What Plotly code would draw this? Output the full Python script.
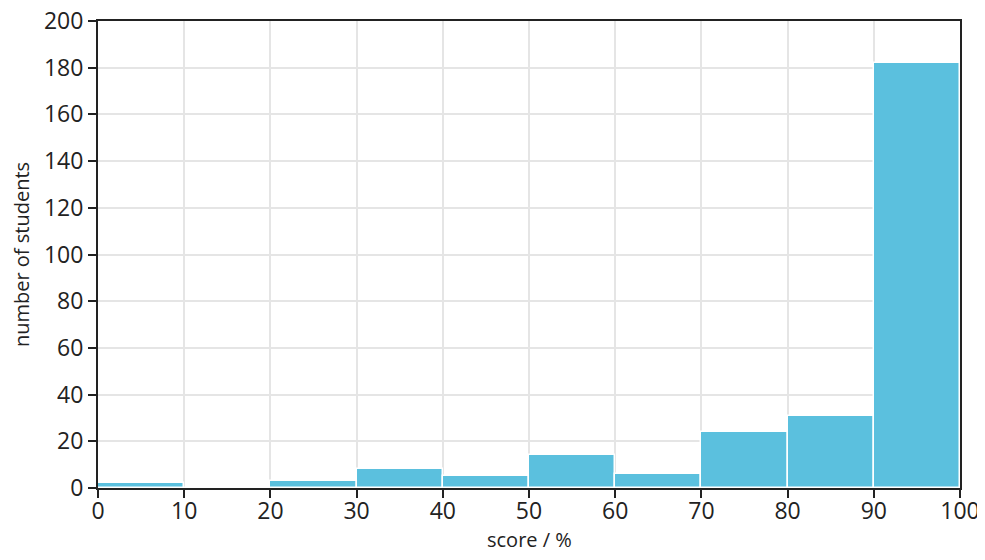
import plotly.graph_objects as go

bin_starts = [0, 10, 20, 30, 40, 50, 60, 70, 80, 90]
bin_width = 10
counts = [2, 0, 3, 8, 5, 14, 6, 24, 31, 182]
x_ticks = [0, 10, 20, 30, 40, 50, 60, 70, 80, 90, 100]
y_ticks = [0, 20, 40, 60, 80, 100, 120, 140, 160, 180, 200]
x_title = "score / %"
y_title = "number of students"

centers = [s + bin_width / 2 for s in bin_starts]

fig = go.Figure(go.Bar(
    x=centers, y=counts, width=[bin_width] * len(counts),
    marker=dict(color="#5bc0de", line=dict(color="white", width=1.5)),
    hoverinfo="x+y",
))

axis_common = dict(
    showline=True, linecolor="#222", linewidth=2, mirror=True,
    showgrid=True, gridcolor="#e5e5e5", gridwidth=2,
    ticks="outside", ticklen=8, tickcolor="#222", tickwidth=2,
    tickfont=dict(family="Open Sans", size=23, color="#222"),
    ticklabeloverflow="allow",
    zeroline=False, automargin=False,
)

# page body has an 8px default margin, so the figure is sized/offset to compensate
fig.update_layout(
    width=969, height=544,
    margin=dict(l=90, r=17, t=13, b=64),
    plot_bgcolor="white", paper_bgcolor="white",
    bargap=0, showlegend=False,
    xaxis=dict(range=[0, 100], tickvals=x_ticks, ticklabelstandoff=-7, **axis_common),
    yaxis=dict(range=[0, 200], tickvals=y_ticks,
               title=dict(text=y_title, font=dict(family="Open Sans", size=20, color="#222"), standoff=14),
               **axis_common),
    annotations=[dict(
        text=x_title, xref="paper", yref="paper", x=0.5, y=0,
        xanchor="center", yanchor="middle", yshift=-51, showarrow=False,
        font=dict(family="Open Sans", size=20, color="#222"),
    )],
)

fig.write_html("out.html")
